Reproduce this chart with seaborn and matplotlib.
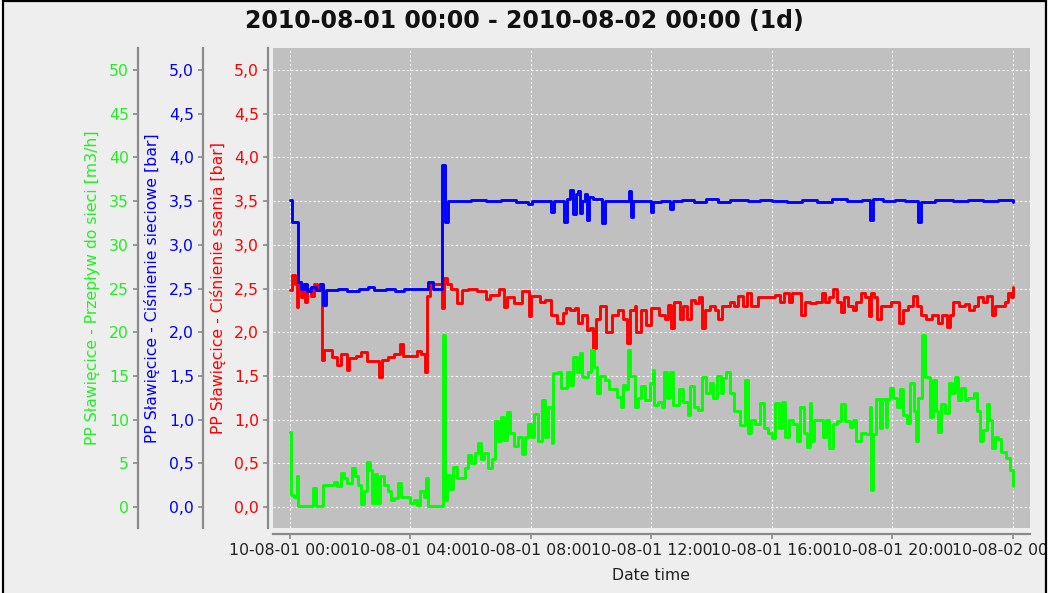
import numpy as np
import pandas as pd
import matplotlib
matplotlib.use("Agg")
import matplotlib.pyplot as plt
import matplotlib.dates as mdates
from matplotlib.ticker import FuncFormatter, FixedLocator
from matplotlib.patches import Rectangle
import seaborn as sns

# ---------------- data ----------------
title_text = "2010-08-01 00:00 - 2010-08-02 00:00 (1d)"
start_time = "2010-08-01 00:00"
x_label = "Date time"
green_label = "PP Sławięcice - Przepływ do sieci [m3/h]"
blue_label = "PP Sławięcice - Ciśnienie sieciowe [bar]"
red_label = "PP Sławięcice - Ciśnienie ssania [bar]"

blue_hours = [0.00, 0.08, 0.25, 0.35, 0.45, 0.55, 0.70, 0.85, 1.00, 1.10, 1.20, 1.60, 1.90, 2.30,
              2.60, 2.80, 3.20, 3.50, 3.80, 4.20, 4.58, 4.75, 5.05, 5.13, 5.25, 6.00, 6.50, 7.00,
              7.50, 7.90, 8.05, 8.65, 8.75, 9.10, 9.20, 9.30, 9.40, 9.48, 9.55, 9.62, 9.70, 9.80,
              9.85, 9.93, 10.05, 10.35, 10.45, 10.80, 11.25, 11.32, 11.40, 11.90, 11.98, 12.06,
              12.30, 12.62, 12.72, 13.00, 13.40, 13.80, 14.20, 14.60, 15.20, 15.60, 16.00, 16.50,
              17.00, 17.50, 18.00, 18.50, 19.00, 19.25, 19.35, 19.70, 20.10, 20.40, 20.85, 20.95,
              21.40, 22.00, 22.50, 23.00, 23.50, 24.00]
blue_values = [3.51, 3.26, 2.58, 2.50, 2.55, 2.47, 2.52, 2.48, 2.55, 2.31, 2.48, 2.50, 2.47, 2.50,
               2.52, 2.48, 2.50, 2.47, 2.49, 2.50, 2.57, 2.50, 3.91, 3.26, 3.50, 3.51, 3.50, 3.51,
               3.49, 3.47, 3.50, 3.38, 3.50, 3.26, 3.52, 3.63, 3.35, 3.58, 3.62, 3.36, 3.50, 3.58,
               3.28, 3.55, 3.52, 3.25, 3.50, 3.50, 3.62, 3.32, 3.50, 3.50, 3.38, 3.49,
               3.50, 3.41, 3.50, 3.51, 3.49, 3.52, 3.49, 3.51, 3.50, 3.51, 3.50, 3.49,
               3.51, 3.49, 3.52, 3.50, 3.51, 3.28, 3.52, 3.50, 3.51, 3.50, 3.26, 3.49,
               3.51, 3.50, 3.51, 3.50, 3.51, 3.49]

red_hours = [0.00, 0.07, 0.17, 0.22, 0.28, 0.35, 0.42, 0.50, 0.58, 0.70, 0.80, 0.90, 1.00, 1.05,
             1.12, 1.40, 1.55, 1.70, 1.88, 1.95, 2.20, 2.35, 2.55, 2.95, 3.05, 3.25, 3.45, 3.65,
             3.75, 4.00, 4.20, 4.35, 4.48, 4.54, 4.65, 5.03, 5.10, 5.20, 5.35, 5.55, 5.70, 5.90,
             6.20, 6.50, 6.65, 6.95, 7.10, 7.20, 7.45, 7.70, 7.92, 8.00, 8.30, 8.45, 8.65, 8.85,
             9.05, 9.15, 9.30, 9.45, 9.55, 9.70, 9.85, 9.96, 10.05, 10.15, 10.30, 10.50, 10.70,
             10.90, 11.05, 11.20, 11.28, 11.45, 11.50, 11.65, 11.82, 11.98, 12.25, 12.45, 12.56,
             12.65, 12.75, 12.95, 13.05, 13.18, 13.30, 13.45, 13.58, 13.67, 13.78, 13.95, 14.10,
             14.22, 14.35, 14.60, 14.75, 14.88, 15.05, 15.18, 15.30, 15.55, 15.90, 16.10, 16.25,
             16.40, 16.55, 16.65, 16.95, 17.10, 17.25, 17.45, 17.65, 17.75, 17.90, 18.04, 18.15,
             18.30, 18.40, 18.52, 18.68, 18.80, 18.95, 19.10, 19.22, 19.30, 19.40, 19.50, 19.62,
             19.80, 19.95, 20.10, 20.22, 20.35, 20.50, 20.68, 20.80, 20.95, 21.10, 21.30, 21.52,
             21.65, 21.80, 21.92, 22.02, 22.20, 22.40, 22.55, 22.70, 22.85, 23.00, 23.15, 23.30,
             23.40, 23.60, 23.72, 23.85, 23.92, 24.00]
red_values = [2.48, 2.65, 2.55, 2.29, 2.58, 2.40, 2.55, 2.35, 2.50, 2.42, 2.55, 2.48, 2.55, 1.68,
              1.80, 1.72, 1.62, 1.75, 1.57, 1.70, 1.73, 1.77, 1.67, 1.49, 1.68, 1.72, 1.75, 1.87,
              1.73, 1.73, 1.78, 1.75, 1.55, 2.41, 2.55, 2.28, 2.62, 2.55, 2.50, 2.33, 2.48, 2.50,
              2.47, 2.38, 2.43, 2.50, 2.29, 2.40, 2.33, 2.47, 2.18, 2.42, 2.35, 2.37, 2.20, 2.10,
              2.22, 2.28, 2.25, 2.28, 2.10, 2.20, 2.02, 2.05, 1.82, 2.15, 2.30, 2.00, 2.20,
              2.25, 2.15, 1.88, 2.25, 2.30, 2.00, 2.25, 2.08, 2.28, 2.20, 2.15, 2.31,
              2.05, 2.35, 2.15, 2.30, 2.15, 2.37, 2.33, 2.40, 2.05, 2.25, 2.30, 2.25,
              2.15, 2.30, 2.35, 2.30, 2.41, 2.30, 2.45, 2.30, 2.40, 2.40, 2.43, 2.35,
              2.45, 2.35, 2.45, 2.20, 2.35, 2.33, 2.35, 2.45, 2.35, 2.40, 2.50, 2.35,
              2.23, 2.40, 2.30, 2.25, 2.35, 2.45, 2.40, 2.18, 2.45, 2.40, 2.15, 2.30,
              2.30, 2.35, 2.35, 2.10, 2.25, 2.30, 2.42, 2.30, 2.20, 2.15, 2.20, 2.10,
              2.20, 2.06, 2.20, 2.35, 2.30, 2.32, 2.25, 2.30, 2.40, 2.35, 2.42, 2.20,
              2.30, 2.30, 2.35, 2.45, 2.40, 2.52]

green_hours = [0.00, 0.05, 0.12, 0.22, 0.28, 0.77, 0.85, 1.10, 1.35, 1.45, 1.55, 1.70, 1.80, 1.90,
               2.05, 2.15, 2.25, 2.37, 2.47, 2.57, 2.65, 2.72, 2.82, 2.90, 3.00, 3.12, 3.25, 3.35,
               3.45, 3.60, 3.70, 3.87, 4.00, 4.10, 4.22, 4.33, 4.45, 4.52, 4.58, 5.03, 5.09, 5.14,
               5.22, 5.30, 5.40, 5.55, 5.80, 5.90, 6.00, 6.15, 6.25, 6.35, 6.45, 6.58, 6.70, 6.80,
               6.90, 7.00, 7.10, 7.20, 7.30, 7.45, 7.58, 7.70, 7.80, 7.90, 8.00, 8.10, 8.22, 8.35,
               8.45, 8.58, 8.70, 8.74, 8.90, 9.00, 9.20, 9.30, 9.40, 9.52, 9.63, 9.70, 9.74, 9.90,
               10.00, 10.10, 10.20, 10.30, 10.45, 10.60, 10.85, 11.00, 11.05, 11.15, 11.23, 11.30,
               11.45, 11.55, 11.65, 11.80, 11.95, 12.04, 12.10, 12.20, 12.34, 12.40, 12.50, 12.60,
               12.70, 12.90, 13.05, 13.20, 13.27, 13.40, 13.55, 13.67, 13.80, 13.94, 14.05, 14.18,
               14.30, 14.38, 14.47, 14.60, 14.75, 14.94, 15.10, 15.20, 15.30, 15.45, 15.60, 15.72,
               15.88, 15.99, 16.10, 16.22, 16.32, 16.43, 16.55, 16.70, 16.82, 16.93, 17.05, 17.15,
               17.26, 17.30, 17.38, 17.55, 17.70, 17.80, 17.90, 18.04, 18.15, 18.30, 18.42, 18.60,
               18.70, 18.80, 18.95, 19.12, 19.25, 19.30, 19.36, 19.46, 19.58, 19.64, 19.77, 19.82,
               19.92, 20.03, 20.14, 20.25, 20.36, 20.47, 20.58, 20.70, 20.78, 20.86, 20.97, 21.08,
               21.24, 21.35, 21.45, 21.50, 21.62, 21.75, 21.86, 21.97, 22.07, 22.18, 22.29, 22.40,
               22.51, 22.70, 22.82, 22.90, 23.02, 23.14, 23.22, 23.30, 23.40, 23.50, 23.60, 23.77,
               23.90, 24.00]
green_values = [8.6, 1.4, 1.2, 3.5, 0.1, 2.2, 0.1, 2.5, 2.5, 2.9, 2.4, 3.9, 3.3, 2.7,
                4.5, 3.5, 2.5, 0.3, 1.8, 5.2, 4.2, 0.5, 3.8, 0.5, 3.5, 2.5, 1.8, 0.8,
                1.0, 2.7, 1.2, 1.2, 0.5, 0.8, 0.2, 1.8, 1.2, 3.3, 0.1, 0.1, 19.7, 0.8,
                3.7, 2.1, 4.6, 3.3, 4.5, 5.9, 5.0, 6.2, 7.3, 5.5, 6.2, 4.5, 5.5, 9.8,
                7.5, 10.3, 7.7, 10.9, 8.5, 7.0, 8.0, 6.1, 8.0, 9.5, 8.0, 10.7, 7.5, 12.2,
                8.0, 11.5, 7.3, 15.3, 15.5, 13.6, 15.5, 14.0, 17.2, 15.5, 17.6, 15.0, 14.9, 15.5,
                18.0, 16.0, 13.0, 15.0, 14.5, 13.5, 12.6, 11.5, 14.0, 13.5, 18.0, 15.0,
                11.5, 12.5, 13.8, 12.2, 14.2, 15.7, 11.7, 12.0, 11.5, 15.5, 12.5, 15.5,
                11.7, 13.5, 12.0, 10.5, 13.8, 11.5, 11.1, 14.9, 13.0, 14.2, 12.5, 15.0,
                13.0, 14.8, 15.4, 13.0, 11.0, 9.4, 14.5, 8.5, 10.0, 9.5, 11.9, 9.0,
                8.5, 7.9, 11.9, 9.0, 12.0, 8.0, 10.0, 9.5, 7.5, 11.5, 8.5, 6.9,
                11.9, 7.5, 10.0, 10.0, 8.0, 10.0, 6.7, 9.5, 9.8, 11.8, 9.8, 9.2,
                10.0, 7.5, 8.5, 8.4, 11.5, 2.0, 8.4, 12.4, 9.0, 12.4, 9.2, 12.4,
                13.6, 12.5, 11.5, 13.5, 10.5, 9.6, 14.2, 11.0, 7.5, 12.5, 19.7, 14.9,
                10.3, 14.5, 11.0, 8.6, 11.8, 10.8, 14.2, 13.0, 14.9, 12.2, 13.6, 12.2,
                12.5, 13.0, 11.0, 7.5, 8.8, 11.8, 10.0, 6.8, 8.0, 7.8, 6.3, 5.6,
                4.2, 2.4]

bar_ticks = [0.0, 0.5, 1.0, 1.5, 2.0, 2.5, 3.0, 3.5, 4.0, 4.5, 5.0]
flow_ticks = [0, 5, 10, 15, 20, 25, 30, 35, 40, 45, 50]

# ---------------- style ----------------
sns.set_style("white")
plt.rcParams["font.family"] = ["DejaVu Sans"]

GREEN = "#00FF00"
GREEN_TXT = "#22EE22"
BLUE = "#0000FF"
RED = "#FF0000"
SPINE = "#8A8A8A"
FS = 11.3

base = pd.Timestamp(start_time)


def frame(hours, values, col):
    return pd.DataFrame({"time": base + pd.to_timedelta(np.asarray(hours), unit="h"),
                         col: values})


df_red = frame(red_hours, red_values, "value")
df_blue = frame(blue_hours, blue_values, "value")
df_green = frame(green_hours, green_values, "value")

W, H = 1049, 593
fig = plt.figure(figsize=(W / 100, H / 100), dpi=100, facecolor="white")
fig.patches.append(Rectangle((2.5 / W, 0), (1046 - 2.5) / W, 1.0, transform=fig.transFigure,
                             facecolor="#EEEEEE", edgecolor="none", zorder=-10))

rect = [273 / W, (H - 528) / H, 757 / W, 480 / H]
ax_r = fig.add_axes(rect, facecolor="#C0C0C0")
ax_b = fig.add_axes(rect, facecolor="none", sharex=ax_r)
ax_g = fig.add_axes(rect, facecolor="none", sharex=ax_r)

LW = 2.1
sns.lineplot(data=df_red, x="time", y="value", ax=ax_r, color=RED, lw=LW,
             drawstyle="steps-post", estimator=None)
sns.lineplot(data=df_green, x="time", y="value", ax=ax_g, color=GREEN, lw=LW,
             drawstyle="steps-post", estimator=None)
sns.lineplot(data=df_blue, x="time", y="value", ax=ax_b, color=BLUE, lw=LW,
             drawstyle="steps-post", estimator=None)

x0 = base - pd.Timedelta(hours=0.564)
x1 = base + pd.Timedelta(hours=24.565)
ax_r.set_xlim(x0, x1)

ylo, yhi = -0.240, 5.252
ax_r.set_ylim(ylo, yhi)
ax_b.set_ylim(ylo, yhi)
ax_g.set_ylim(ylo * 10, yhi * 10)

comma = FuncFormatter(lambda v, p: f"{v:.1f}".replace(".", ","))
for ax, col, ticks, fmt, off, lab, lx in [
        (ax_r, RED, bar_ticks, comma, 3.6, red_label, 218),
        (ax_b, BLUE, bar_ticks, comma, 50.4, blue_label, 152.5),
        (ax_g, GREEN_TXT, flow_ticks, FuncFormatter(lambda v, p: f"{v:.0f}"), 97.2, green_label, 92.5)]:
    for s in ["top", "right", "bottom"]:
        ax.spines[s].set_visible(False)
    ax.spines["left"].set_visible(True)
    ax.spines["left"].set_position(("outward", off))
    ax.spines["left"].set_color(SPINE)
    ax.spines["left"].set_linewidth(1.6)
    ax.yaxis.set_major_locator(FixedLocator(ticks))
    ax.yaxis.set_major_formatter(fmt)
    ax.tick_params(axis="y", which="major", left=True, direction="out", length=3.5, width=1.2,
                   color=SPINE, labelcolor=col, labelsize=FS, pad=3)
    ax.set_ylabel(lab, color=col, fontsize=FS, va="center")
    ax.yaxis.set_label_coords((lx - 273) / 757, 0.5)

for ax in (ax_b, ax_g):
    ax.xaxis.set_visible(False)
    ax.grid(False)

# x axis on red (main) axes
ax_r.spines["bottom"].set_visible(True)
ax_r.spines["bottom"].set_position(("outward", 4.3))
ax_r.spines["bottom"].set_color(SPINE)
ax_r.spines["bottom"].set_linewidth(1.6)
ax_r.xaxis.set_major_locator(mdates.HourLocator(byhour=range(0, 24, 4)))
ax_r.xaxis.set_major_formatter(mdates.DateFormatter("%y-%m-%d %H:%M"))
ax_r.tick_params(axis="x", which="major", bottom=True, direction="out", length=3.5, width=1.2,
                 color=SPINE, labelcolor="#222222", labelsize=FS, pad=3)
ax_r.set_xlabel(x_label, fontsize=FS, color="#222222", va="center")
ax_r.xaxis.set_label_coords(0.5, (528 - 575) / 480)

ax_r.grid(True, color="white", linestyle=(0, (2, 2)), linewidth=0.8, alpha=0.9)
ax_r.set_axisbelow(True)

fig.text(0.5, 1 - 21 / H, title_text, ha="center", va="center", fontsize=17,
         fontweight="bold", color="#111111")

# screenshot frame (clips overflow at the right)
fig.patches.append(Rectangle((1047 / W, 0), 1 - 1047 / W, 1.0, transform=fig.transFigure,
                             facecolor="white", edgecolor="none", zorder=20))
fig.patches.append(Rectangle((2.5 / W, -0.01), (1046 - 2.5) / W, 1.0 + 0.01 - 0.8 / H,
                             transform=fig.transFigure, facecolor="none",
                             edgecolor="black", lw=1.6, zorder=21))

fig.savefig("out.png", dpi=100, facecolor=fig.get_facecolor())
